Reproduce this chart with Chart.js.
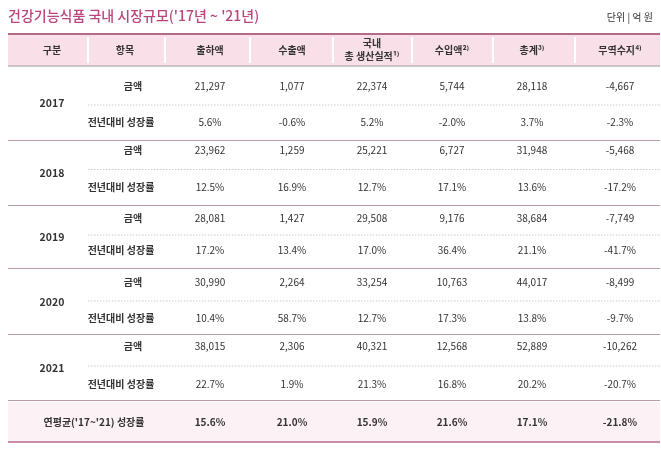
<!DOCTYPE html>
<html><head><meta charset="utf-8">
<script src="https://cdn.jsdelivr.net/npm/chart.js@4"></script>
<style>html,body{margin:0;background:#fff}canvas{display:block}</style>
</head><body>
<canvas id="c" width="661" height="451"></canvas>
<script>
const title = "건강기능식품 국내 시장규모('17년 ~ '21년)";
const unit = '단위 | 억 원';
const headers = ['구분', '항목', '출하액', '수출액', ['국내', '총 생산실적¹⁾'], '수입액²⁾', '총계³⁾', '무역수지⁴⁾'];
const years = ['2017', '2018', '2019', '2020', '2021'];
const amount = [
  ['21,297', '1,077', '22,374', '5,744', '28,118', '-4,667'],
  ['23,962', '1,259', '25,221', '6,727', '31,948', '-5,468'],
  ['28,081', '1,427', '29,508', '9,176', '38,684', '-7,749'],
  ['30,990', '2,264', '33,254', '10,763', '44,017', '-8,499'],
  ['38,015', '2,306', '40,321', '12,568', '52,889', '-10,262']
];
const growth = [
  ['5.6%', '-0.6%', '5.2%', '-2.0%', '3.7%', '-2.3%'],
  ['12.5%', '16.9%', '12.7%', '17.1%', '13.6%', '-17.2%'],
  ['17.2%', '13.4%', '17.0%', '36.4%', '21.1%', '-41.7%'],
  ['10.4%', '58.7%', '12.7%', '17.3%', '13.8%', '-9.7%'],
  ['22.7%', '1.9%', '21.3%', '16.8%', '20.2%', '-20.7%']
];
const cagrLabel = "연평균('17~'21) 성장률";
const cagr = ['15.6%', '21.0%', '15.9%', '21.6%', '17.1%', '-21.8%'];

// layout (in scale units = pixels)
const colX = [52, 125, 210, 292, 372, 452, 532, 620];
const colEdges = [8, 88, 165, 250, 333, 412, 493, 575, 660];
const groupTop = [67, 141, 207, 270, 336];
const groupBot = [140, 205, 268, 334, 400];
const rowAmt = [86, 150, 218, 282, 346];
const rowGr = [122, 187, 250, 318, 384];

const tablePlugin = {
  id: 'table',
  afterDraw(chart) {
    const ctx = chart.ctx, X = chart.scales.x, Y = chart.scales.y;
    const px = v => X.getPixelForValue(v), py = v => Y.getPixelForValue(v);
    const font = (w, s) => `${w} ${s}px "Noto Sans CJK KR", "Noto Sans", sans-serif`;
    const txt = (s, x, y, f, c, al) => {
      ctx.font = f; ctx.fillStyle = c || '#333'; ctx.textAlign = al || 'center';
      ctx.textBaseline = 'middle'; ctx.fillText(s, px(x), py(y));
    };
    const hline = (x0, x1, y, col, w, dash) => {
      ctx.save(); ctx.strokeStyle = col; ctx.lineWidth = w; ctx.setLineDash(dash || []);
      ctx.beginPath(); ctx.moveTo(px(x0), py(y)); ctx.lineTo(px(x1), py(y)); ctx.stroke(); ctx.restore();
    };
    const vline = (x, y0, y1, col, w) => {
      ctx.save(); ctx.strokeStyle = col; ctx.lineWidth = w;
      ctx.beginPath(); ctx.moveTo(px(x), py(y0)); ctx.lineTo(px(x), py(y1)); ctx.stroke(); ctx.restore();
    };
    ctx.save();
    txt(title, 8, 16, font(500, 14), '#b8467c', 'left');
    txt(unit, 653, 17, font(400, 10), '#333', 'right');
    // header
    ctx.fillStyle = '#f8dfe8';
    ctx.fillRect(px(8), py(34), px(660) - px(8), py(66) - py(34));
    ctx.fillStyle = '#fcf1f5';
    ctx.fillRect(px(8), py(402), px(660) - px(8), py(442) - py(402));
    for (let i = 1; i < colEdges.length - 1; i++) vline(colEdges[i], 37, 63, '#fff', 2);
    hline(8, 660, 34, '#b46a8a', 2);
    hline(8, 660, 66, '#9a9a9a', 1);
    headers.forEach((h, i) => {
      if (Array.isArray(h)) { txt(h[0], colX[i], 43, font(700, 10), '#333'); txt(h[1], colX[i], 56, font(700, 10), '#333'); }
      else txt(h, colX[i], 50, font(700, 10), '#333');
    });
    // body
    years.forEach((yr, g) => {
      txt(yr, colX[0], (groupTop[g] + groupBot[g]) / 2, font(700, 10.5), '#333');
      txt('금액', colX[1] + 8, rowAmt[g], font(700, 10), '#333');
      txt('전년대비 성장률', colX[1] - 4, rowGr[g], font(700, 10), '#333');
      amount[g].forEach((v, j) => txt(v, colX[j + 2], rowAmt[g], font(400, 10), '#333'));
      growth[g].forEach((v, j) => txt(v, colX[j + 2], rowGr[g], font(400, 10), '#333'));
      const mid = (rowAmt[g] + rowGr[g]) / 2 + 1;
      hline(88, 660, mid, '#bdbdbd', 0.8, [1.5, 1.5]);
      hline(8, 660, groupBot[g] + 0.5, '#b89aa8', 1);
    });
    txt(cagrLabel, colX[0] + 42, 422, font(700, 10), '#333');
    cagr.forEach((v, j) => txt(v, colX[j + 2], 422, font(700, 10), '#333'));
    hline(8, 660, 442, '#b46a8a', 1.5);
    ctx.restore();
  }
};

new Chart(document.getElementById('c'), {
  type: 'scatter',
  data: { datasets: [{ data: [], pointRadius: 0 }] },
  options: {
    responsive: false, animation: false, devicePixelRatio: 1,
    layout: { padding: 0 },
    plugins: { legend: { display: false }, tooltip: { enabled: false } },
    scales: {
      x: { type: 'linear', min: 0, max: 661, display: false },
      y: { type: 'linear', min: 0, max: 451, reverse: true, display: false }
    }
  },
  plugins: [tablePlugin]
});
</script>
</body></html>
